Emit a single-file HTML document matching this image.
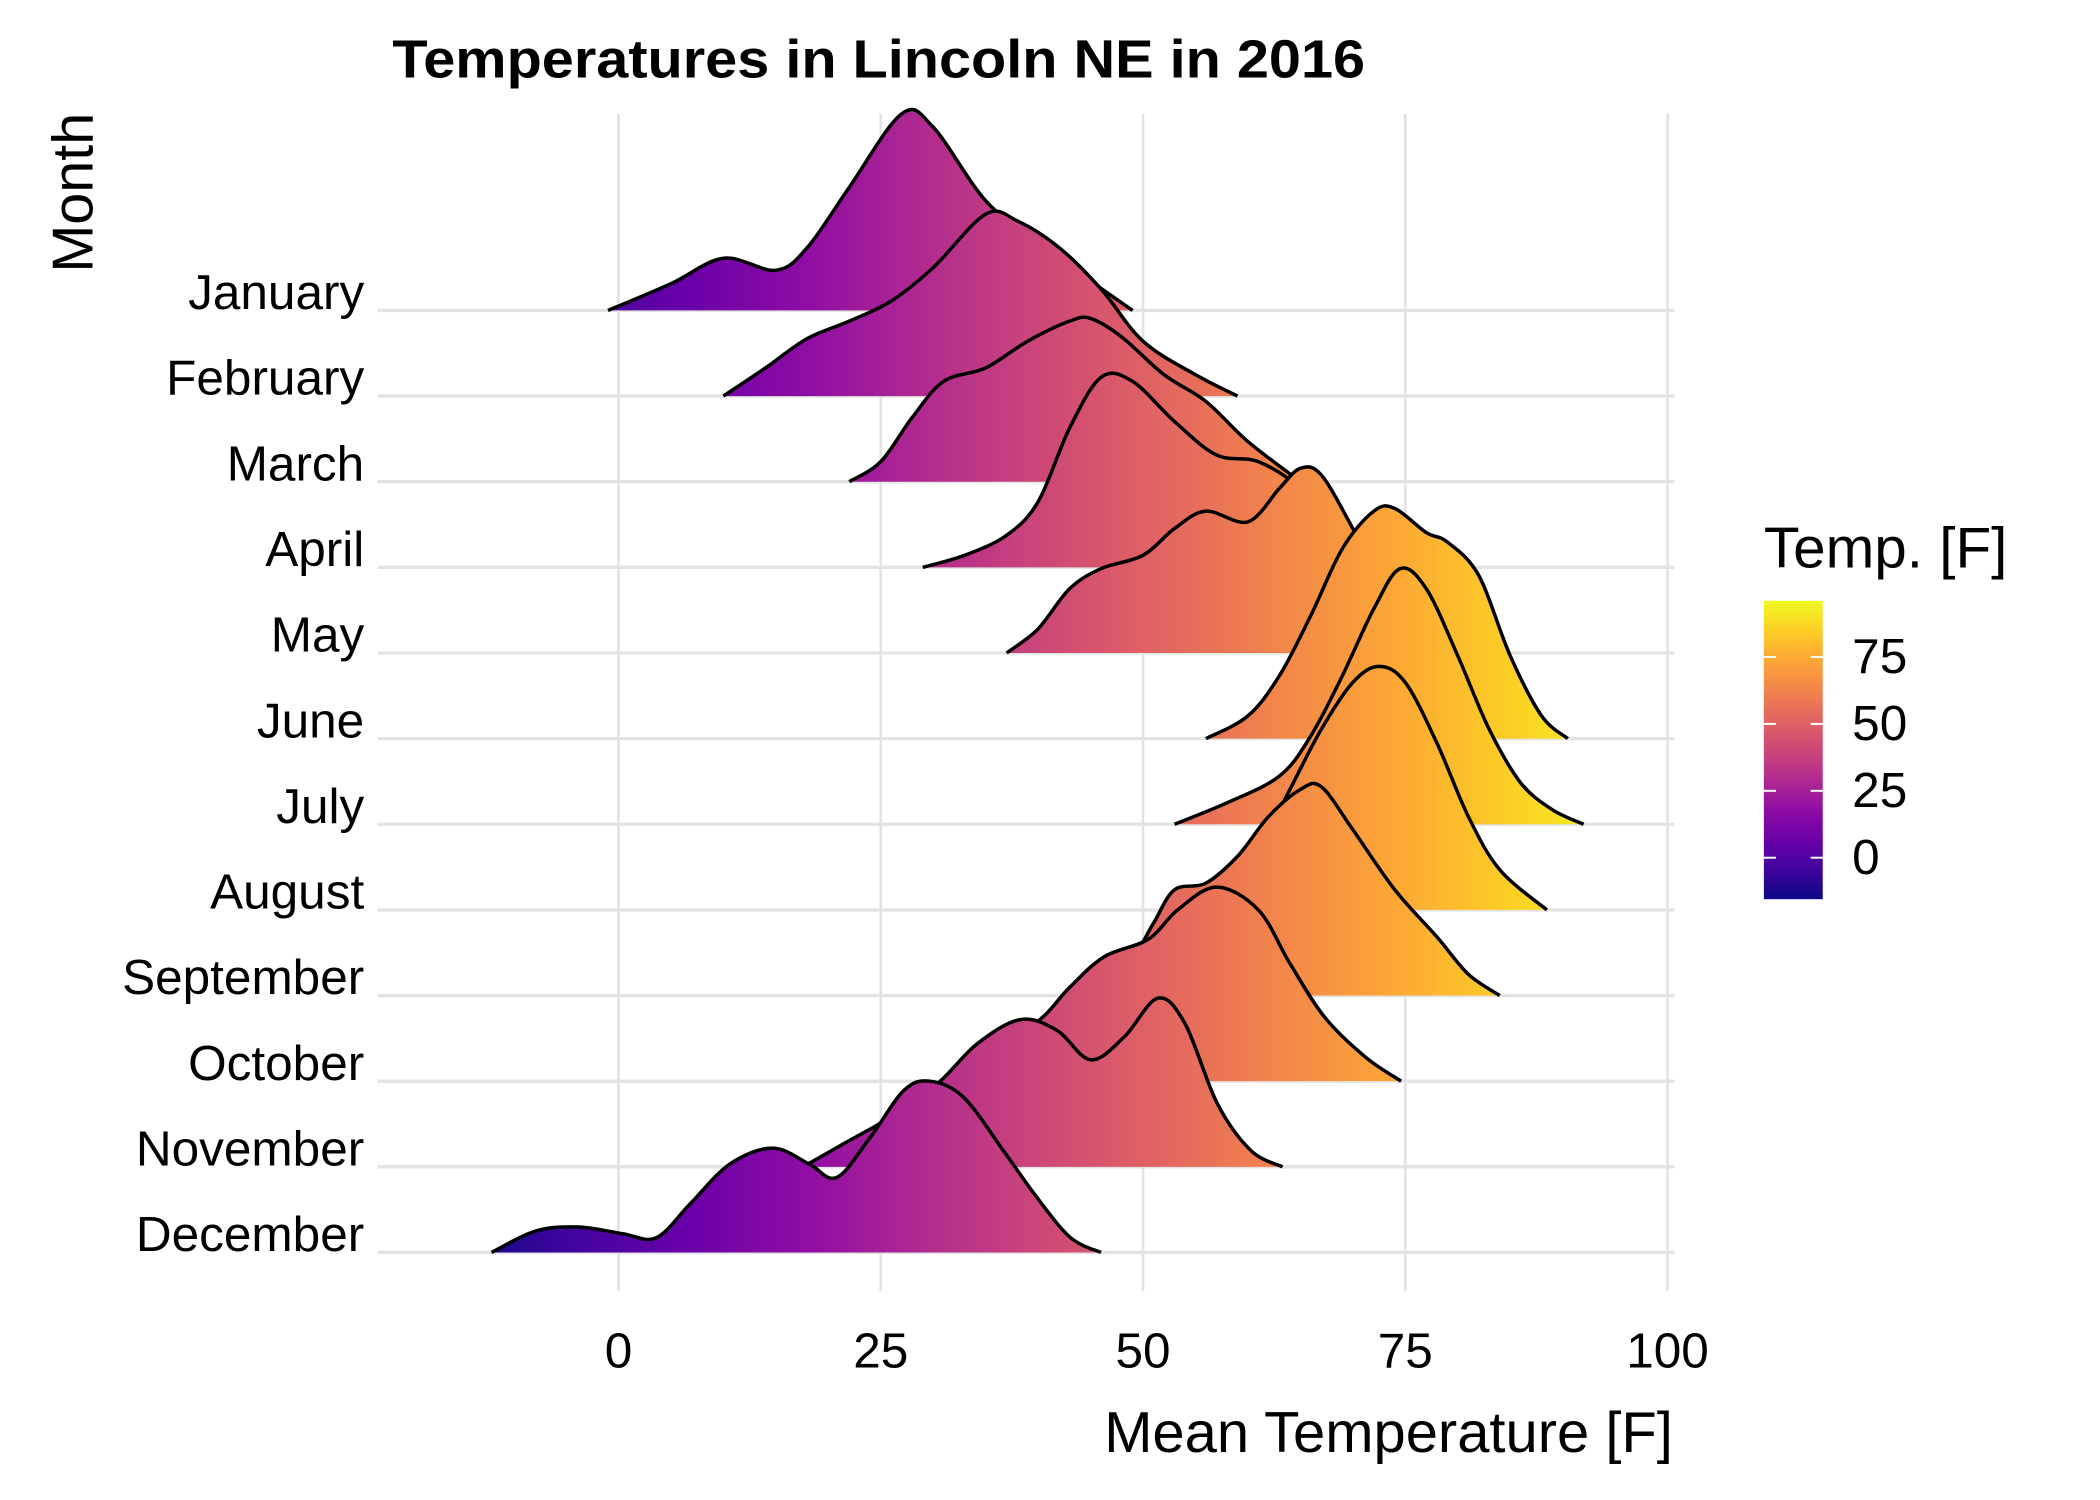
<!DOCTYPE html>
<html><head><meta charset="utf-8"><style>
html,body{margin:0;padding:0;background:#fff}
svg{display:block}
text{font-family:"Liberation Sans",Arial,sans-serif;fill:#000}
</style></head><body>
<svg id="chart" width="2100" height="1500" viewBox="0 0 1569 1121">
<defs>
<linearGradient id="plasma" gradientUnits="userSpaceOnUse" x1="340.5" y1="0" x2="1214.6" y2="0">
<stop offset="0" stop-color="#0d0887"/><stop offset="0.1" stop-color="#41049d"/><stop offset="0.2" stop-color="#6a00a8"/><stop offset="0.3" stop-color="#8f0da4"/><stop offset="0.4" stop-color="#b12a90"/><stop offset="0.5" stop-color="#cc4778"/><stop offset="0.6" stop-color="#e16462"/><stop offset="0.7" stop-color="#f2844b"/><stop offset="0.8" stop-color="#fca636"/><stop offset="0.9" stop-color="#fcce25"/><stop offset="1" stop-color="#f0f921"/>
</linearGradient>
<linearGradient id="plasmaV" x1="0" y1="1" x2="0" y2="0">
<stop offset="0" stop-color="#0d0887"/><stop offset="0.1" stop-color="#41049d"/><stop offset="0.2" stop-color="#6a00a8"/><stop offset="0.3" stop-color="#8f0da4"/><stop offset="0.4" stop-color="#b12a90"/><stop offset="0.5" stop-color="#cc4778"/><stop offset="0.6" stop-color="#e16462"/><stop offset="0.7" stop-color="#f2844b"/><stop offset="0.8" stop-color="#fca636"/><stop offset="0.9" stop-color="#fcce25"/><stop offset="1" stop-color="#f0f921"/>
</linearGradient>
</defs>
<g id="grid"></g>
<g id="ridges"></g>
<g id="labels"></g>
<text x="293" y="58" font-size="40" font-weight="bold" textLength="727" lengthAdjust="spacingAndGlyphs">Temperatures in Lincoln NE in 2016</text>
<text x="825" y="1085" font-size="43" textLength="425" lengthAdjust="spacingAndGlyphs">Mean Temperature [F]</text>
<text transform="translate(69,144) rotate(-90)" font-size="43" text-anchor="middle">Month</text>
<g>
<text x="1318" y="424" font-size="43" textLength="182" lengthAdjust="spacingAndGlyphs">Temp. [F]</text>
<rect x="1318" y="449" width="44" height="223" fill="url(#plasmaV)"/>
<g id="legendTicks"></g>
</g>
</svg>
<script>
const months = ["January","February","March","April","May","June","July","August","September","October","November","December"];
const xTicks = [0,25,50,75,100];
const legendTicks = [0,25,50,75];
const janT=[-1,5,10,15,18,22,27,30,35,40,45,49];
const janH=[0,20,39,30,47,92,147,137,82,50,22,0];
const febT=[10,14,18,22,26,30,35,38,42,46,50,55,59];
const febH=[0,21,43,56,71,96,136,131,111,80,41,16,0];
const marT=[22,25,28,31,35,39,43,45,48,52,56,60,65];
const marH=[0,15,48,75,85,105,120,122,108,80,60,30,0];
const aprT=[29,33,37,40,43,46,49,53,57,61,65,69,72];
const aprH=[0,9,24,49,104,142,139,109,84,79,59,24,0];
const mayT=[37,40,43,46,50,53,56,60,63,65,67,70,73,77,80];
const mayH=[0,18,48,63,73,93,106,98,123,138,133,93,48,13,0];
const junT=[56,60,63,66,69,72,74,77,79,82,85,88,90.5];
const junH=[0,17,47,92,142,170,172,154,147,122,62,17,0];
const julT=[53,58,63,66,69,72,74.5,77,80,83,86,89,92];
const julH=[0,16,36,66,111,161,191,176,126,71,31,11,0];
const augT=[55,60,64,67,70,72.5,75,78,81,84,88.5];
const augH=[0,30,90,135,170,182,170,125,70,30,0];
const sepT=[45,49,51,53,56,59,62,65,67,70,74,78,81,84];
const sepH=[0,29,54,79,84,104,134,154,156,124,79,44,16,0];
const octT=[31,35.5,40,43,46.3,50.5,53.3,57,61,64,67.3,71.2,74.6];
const octH=[0,25,45,70,93,106,128,145,128,88,48,18,0];
const novT=[17.6,21.4,25.9,30.4,34.2,38.3,41.8,45,48.2,51.4,54,57.1,60.3,63.3];
const novH=[0,17,37,62,92,110,102,80,97,126,107,47,12,0];
const decT=[-12.1,-7.9,-3.8,0.4,3.6,6.8,10.6,14.7,18.2,20.8,24,27.2,29.7,32.9,36.7,39.9,43.1,46];
const decH=[0,16,19,14,11,36,66,78,66,56,86,121,128,116,76,41,11,0];
const temps=[janT,febT,marT,aprT,mayT,junT,julT,augT,sepT,octT,novT,decT];
const heights=[janH,febH,marH,aprH,mayH,junH,julH,augH,sepH,octH,novH,decH];

const NS="http://www.w3.org/2000/svg";
function xS(v){return 462+v*7.84;}
function yBase(i){return 232+i*64;}
function lS(v){return 641-v*2.0;}

const grid=document.getElementById('grid');
xTicks.forEach(t=>{
  const l=document.createElementNS(NS,'line');
  l.setAttribute('x1',xS(t));l.setAttribute('x2',xS(t));l.setAttribute('y1',85);l.setAttribute('y2',965);
  l.setAttribute('stroke','#e3e3e3');l.setAttribute('stroke-width','2');
  
  
  grid.appendChild(l);
  const tx=document.createElementNS(NS,'text');
  tx.setAttribute('x',xS(t));tx.setAttribute('y',1022);tx.setAttribute('font-size','37');tx.setAttribute('text-anchor','middle');
  tx.textContent=t;
  
  
  document.getElementById('labels').appendChild(tx);
});
months.forEach((m,i)=>{
  const l=document.createElementNS(NS,'line');
  l.setAttribute('x1',282);l.setAttribute('x2',1251);l.setAttribute('y1',yBase(i));l.setAttribute('y2',yBase(i));
  l.setAttribute('stroke','#e3e3e3');l.setAttribute('stroke-width','2.5');
  
  
  grid.appendChild(l);
  const tx=document.createElementNS(NS,'text');
  tx.setAttribute('x',272);tx.setAttribute('y',yBase(i)-1);tx.setAttribute('font-size','37');tx.setAttribute('text-anchor','end');
  tx.textContent=m;
  
  
  document.getElementById('labels').appendChild(tx);
});
function smooth(pts){
  let d='M'+pts[0][0]+','+pts[0][1];
  for(let i=0;i<pts.length-1;i++){
    const p0=pts[Math.max(0,i-1)],p1=pts[i],p2=pts[i+1],p3=pts[Math.min(pts.length-1,i+2)];
    const c1x=p1[0]+(p2[0]-p0[0])/6,c1y=p1[1]+(p2[1]-p0[1])/6;
    const c2x=p2[0]-(p3[0]-p1[0])/6,c2y=p2[1]-(p3[1]-p1[1])/6;
    d+=' C'+c1x.toFixed(1)+','+c1y.toFixed(1)+' '+c2x.toFixed(1)+','+c2y.toFixed(1)+' '+p2[0].toFixed(1)+','+p2[1].toFixed(1);
  }
  return d;
}
const ridges=document.getElementById('ridges');
months.forEach((m,i)=>{
  const b=yBase(i);
  const pts=temps[i].map((t,k)=>[xS(t),b-heights[i][k]]);
  const line=smooth(pts);
  const fill=document.createElementNS(NS,'path');
  fill.setAttribute('d',line+' L'+xS(temps[i][0])+','+b+' Z');
  fill.setAttribute('fill','url(#plasma)');
  
  
  ridges.appendChild(fill);
  const st=document.createElementNS(NS,'path');
  st.setAttribute('d',line);
  st.setAttribute('fill','none');st.setAttribute('stroke','#000');st.setAttribute('stroke-width','2.6');
  
  
  ridges.appendChild(st);
});
const lg=document.getElementById('legendTicks');
legendTicks.forEach(t=>{
  [1318,1353].forEach(x0=>{
    const l=document.createElementNS(NS,'line');
    l.setAttribute('x1',x0);l.setAttribute('x2',x0+9);l.setAttribute('y1',lS(t));l.setAttribute('y2',lS(t));
    l.setAttribute('stroke','#fff');l.setAttribute('stroke-width','1.5');
    
    
    lg.appendChild(l);
  });
  const tx=document.createElementNS(NS,'text');
  tx.setAttribute('x',1384);tx.setAttribute('y',lS(t)+12);tx.setAttribute('font-size','37');
  tx.textContent=t;
  
  
  lg.appendChild(tx);
});
</script>
</body></html>
